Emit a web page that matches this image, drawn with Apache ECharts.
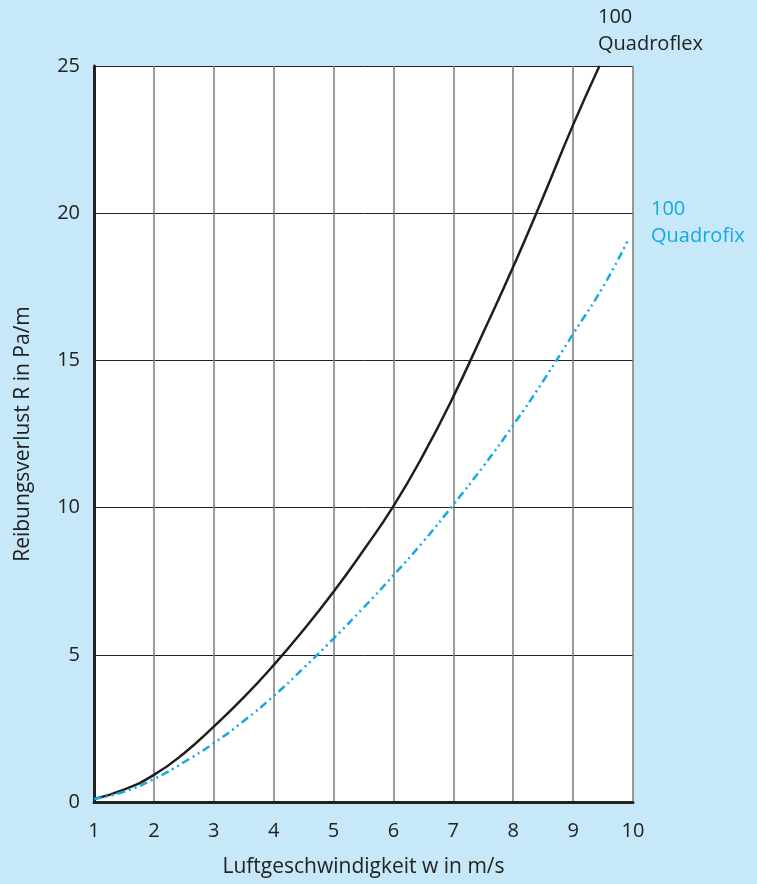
<!DOCTYPE html>
<html>
<head>
<meta charset="utf-8">
<script src="https://cdn.jsdelivr.net/npm/echarts@6/dist/echarts.min.js"></script>
<style>
html,body{margin:0;padding:0;background:#c6e8f8;}
#c{width:757px;height:884px;}
</style>
</head>
<body>
<div id="c"></div>
<script>
const quadroflexW = [1, 1.5, 2, 2.5, 3, 3.5, 4, 4.5, 5, 5.5, 6, 6.5, 7, 7.5, 8, 8.5, 9, 9.44];
const quadroflexR = [0.1, 0.42, 0.92, 1.65, 2.56, 3.55, 4.65, 5.85, 7.14, 8.55, 10.05, 11.8, 13.77, 15.95, 18.18, 20.55, 23.0, 25.0];
const quadrofixW = [1, 1.5, 2, 2.5, 3, 3.5, 4, 4.5, 5, 5.5, 6, 6.5, 7, 7.5, 8, 8.5, 9, 9.5, 9.92];
const quadrofixR = [0.1, 0.35, 0.78, 1.35, 2.0, 2.75, 3.6, 4.55, 5.55, 6.6, 7.7, 8.85, 10.1, 11.4, 12.8, 14.3, 15.9, 17.5, 19.1];
const xTicks = [1, 2, 3, 4, 5, 6, 7, 8, 9, 10];
const yTicks = [0, 5, 10, 15, 20, 25];

const FONT = 'Open Sans';
const TXT = '#222222';
const CYAN = '#14a9e2';

const chart = echarts.init(document.getElementById('c'), null, {renderer: 'canvas'});
chart.setOption({
  backgroundColor: '#c6e8f8',
  animation: false,
  textStyle: {fontFamily: FONT},
  grid: {left: 94, right: 124, top: 66, bottom: 82, show: true, backgroundColor: '#ffffff', borderWidth: 0},
  xAxis: {
    type: 'value', min: xTicks[0], max: xTicks[xTicks.length - 1], interval: 1,
    name: 'Luftgeschwindigkeit w in m/s', nameLocation: 'middle', nameGap: 55,
    nameTextStyle: {fontFamily: FONT, fontSize: 21, color: TXT},
    axisLine: {show: true, lineStyle: {color: '#222', width: 3}},
    axisTick: {show: false},
    axisLabel: {fontFamily: FONT, fontSize: 20, color: TXT, margin: 19},
    splitLine: {show: true, lineStyle: {color: '#7a7a7a', width: 1.5}}
  },
  yAxis: {
    type: 'value', min: yTicks[0], max: yTicks[yTicks.length - 1], interval: 5,
    name: 'Reibungsverlust R in Pa/m', nameLocation: 'middle', nameGap: 60, nameRotate: 90,
    nameTextStyle: {fontFamily: FONT, fontSize: 21, color: TXT},
    axisLine: {show: true, lineStyle: {color: '#222', width: 3}},
    axisTick: {show: false},
    axisLabel: {fontFamily: FONT, fontSize: 20, color: TXT, margin: 14},
    splitLine: {show: true, lineStyle: {color: '#222', width: 1}}
  },
  series: [
    {
      type: 'line', name: '100 Quadroflex', smooth: true, showSymbol: false, symbol: 'none',
      data: quadroflexW.map((w, i) => [w, quadroflexR[i]]),
      lineStyle: {color: '#1e1e1e', width: 2.5}
    },
    {
      type: 'line', name: '100 Quadrofix', smooth: true, showSymbol: false, symbol: 'none',
      data: quadrofixW.map((w, i) => [w, quadrofixR[i]]),
      lineStyle: {color: CYAN, width: 2.5, type: [8, 4, 2, 4, 2, 4]}
    }
  ],
  graphic: [
    {type: 'text', left: 598, top: 4, style: {text: '100\nQuadroflex', fill: TXT, font: '20px "Open Sans"', lineHeight: 27}},
    {type: 'text', left: 651, top: 196, style: {text: '100\nQuadrofix', fill: CYAN, font: '20px "Open Sans"', lineHeight: 27}}
  ]
});
</script>
</body>
</html>
